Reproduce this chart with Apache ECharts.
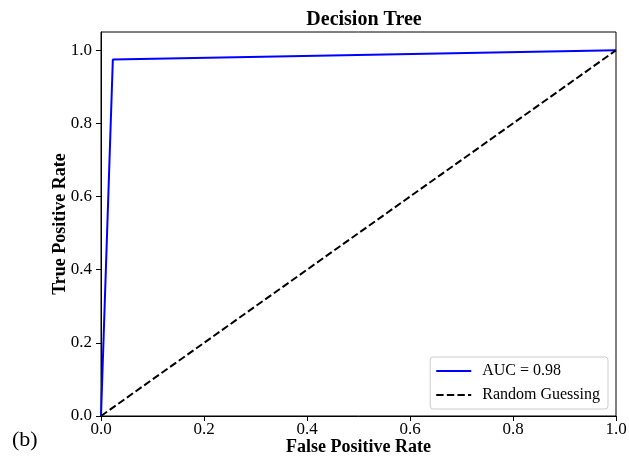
<!DOCTYPE html>
<html>
<head>
<meta charset="UTF-8">
<title>Decision Tree ROC</title>
<script src="https://cdn.jsdelivr.net/npm/echarts@6/dist/echarts.min.js"></script>
<style>
html, body { margin: 0; padding: 0; background: #fff; }
#chart { width: 629px; height: 460px; }
</style>
</head>
<body>
<div id="chart"></div>
<script>
// ROC curve points (false positive rate, true positive rate)
const fpr = [0, 0.023, 1];
const tpr = [0, 0.975, 1];
// random-guess diagonal
const diagX = [0, 1];
const diagY = [0, 1];
const ticks = [0, 0.2, 0.4, 0.6, 0.8, 1.0];

const serif = 'Liberation Serif, Times New Roman, serif';
const chart = echarts.init(document.getElementById('chart'));

chart.setOption({
  animation: false,
  title: {
    text: 'Decision Tree',
    left: 359, top: 5, textAlign: 'center',
    textStyle: { fontFamily: serif, fontSize: 20, fontWeight: 'bold', color: '#000' }
  },
  grid: {
    left: 101, right: 13, top: 32, bottom: 44,
    outerBoundsMode: 'none',
    show: true, borderColor: '#000', borderWidth: 1
  },
  legend: {
    orient: 'vertical',
    right: 21, bottom: 51,
    backgroundColor: '#fff',
    borderColor: '#ccc', borderWidth: 1, borderRadius: 3,
    padding: [6, 8, 6, 5],
    itemWidth: 35, itemHeight: 12, itemGap: 8,
    itemStyle: { opacity: 0 },
    textStyle: { fontFamily: serif, fontSize: 16, color: '#000', padding: [0, 0, 0, 6] },
    data: ['AUC = 0.98', 'Random Guessing']
  },
  xAxis: {
    type: 'value', min: 0, max: 1,
    name: 'False Positive Rate', nameLocation: 'middle', nameGap: 22,
    nameMoveOverlap: false,
    nameTextStyle: { fontFamily: serif, fontSize: 18, fontWeight: 'bold', color: '#000' },
    axisLine: { onZero: false, lineStyle: { color: '#000' } },
    axisTick: { show: true, length: 5, customValues: ticks, lineStyle: { color: '#000' } },
    axisLabel: {
      customValues: ticks, margin: 5,
      formatter: v => v.toFixed(1),
      fontFamily: serif, fontSize: 17, color: '#000'
    },
    splitLine: { show: false }
  },
  yAxis: {
    type: 'value', min: 0, max: 1.05,
    name: 'True Positive Rate', nameLocation: 'middle', nameGap: 32,
    nameMoveOverlap: false,
    nameTextStyle: { fontFamily: serif, fontSize: 18, fontWeight: 'bold', color: '#000' },
    axisLine: { onZero: false, lineStyle: { color: '#000' } },
    axisTick: { show: true, length: 5, customValues: ticks, lineStyle: { color: '#000' } },
    axisLabel: {
      customValues: ticks, margin: 9,
      formatter: v => v.toFixed(1),
      fontFamily: serif, fontSize: 17, color: '#000'
    },
    splitLine: { show: false }
  },
  graphic: [{
    type: 'text', left: 12, top: 429,
    style: { text: '(b)', font: '22px ' + serif, fill: '#000' }
  }],
  series: [
    {
      name: 'AUC = 0.98', type: 'line', symbol: 'none',
      lineStyle: { color: '#0000ff', width: 2 },
      itemStyle: { color: '#0000ff' },
      data: fpr.map((x, i) => [x, tpr[i]])
    },
    {
      name: 'Random Guessing', type: 'line', symbol: 'none',
      lineStyle: { color: '#000', width: 2, type: [7.4, 3.2] },
      itemStyle: { color: '#000' },
      data: diagX.map((x, i) => [x, diagY[i]])
    }
  ]
});
</script>
</body>
</html>
